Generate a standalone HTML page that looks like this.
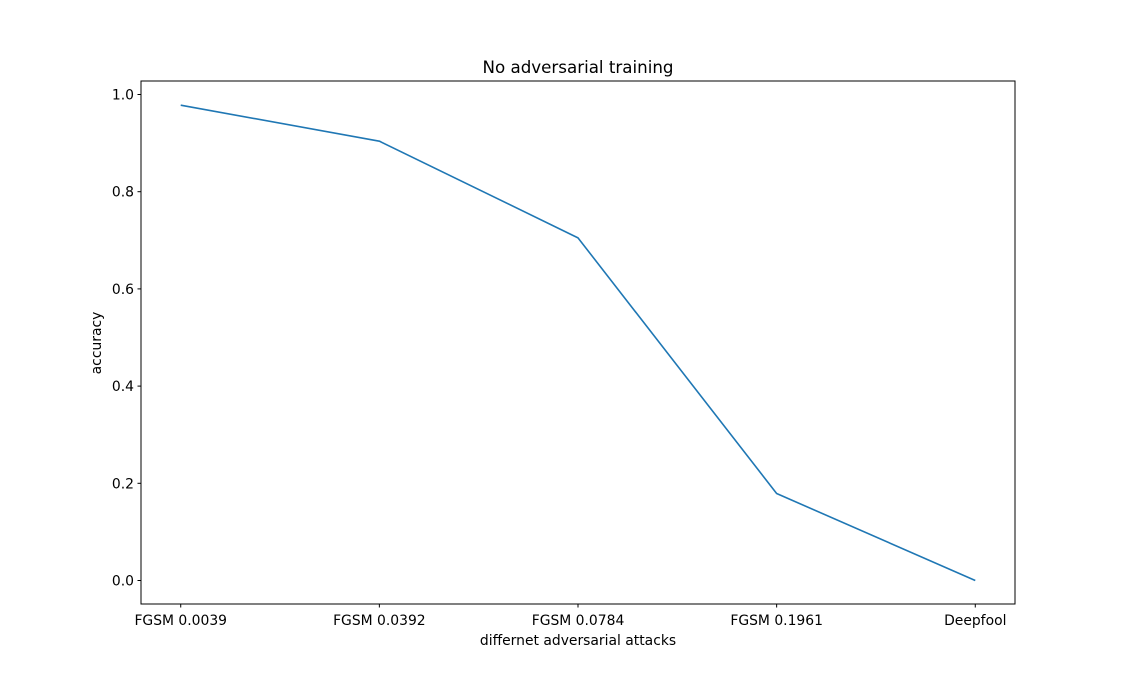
<!DOCTYPE html>
<html><head><meta charset="utf-8"><style>
html,body{margin:0;padding:0;background:#fff;}
svg{display:block;font-family:"DejaVu Sans","Liberation Sans",sans-serif;}
</style></head><body>
<svg id="chart" width="1128" height="679" viewBox="0 0 1128 679">
<rect x="0" y="0" width="1128" height="679" fill="#fff"/>
<text x="578" y="73" font-size="16.7" text-anchor="middle">No adversarial training</text>
<g id="yticks"></g>
<g id="xticks"></g>
<path id="line" fill="none" stroke="#1f77b4" stroke-width="1.6" stroke-linejoin="round"/>
<rect x="141" y="81" width="874" height="523" fill="none" stroke="#000" stroke-width="1"/>
<text x="578" y="645" font-size="13.9" text-anchor="middle">differnet adversarial attacks</text>
<text x="0" y="0" font-size="13.9" text-anchor="middle" transform="translate(101,343) rotate(-90)">accuracy</text>
</svg>
<script>
const categories = ["FGSM 0.0039","FGSM 0.0392","FGSM 0.0784","FGSM 0.1961","Deepfool"];
const accuracy = [0.978, 0.904, 0.705, 0.179, 0.0];
const yTicks = [0.0, 0.2, 0.4, 0.6, 0.8, 1.0];
const yTickLabels = ["0.0","0.2","0.4","0.6","0.8","1.0"];

const L=141,R=1015,T=81,B=604;
function xScale(i){return L+(i+0.2)/4.4*(R-L);}
function yScale(v){return 580.5-v*486;}
const NS="http://www.w3.org/2000/svg";
const yg=document.getElementById('yticks'), xg=document.getElementById('xticks');
yTicks.forEach((v,i)=>{
  const y=yScale(v);
  const l=document.createElementNS(NS,'line');
  l.setAttribute('x1',L-3.5);l.setAttribute('x2',L);l.setAttribute('y1',y);l.setAttribute('y2',y);l.setAttribute('stroke','#000');
  
  
  yg.appendChild(l);
  const t=document.createElementNS(NS,'text');
  t.setAttribute('x',L-7);t.setAttribute('y',y+5);t.setAttribute('font-size','13.9');t.setAttribute('text-anchor','end');
  t.textContent=yTickLabels[i];
  
  
  yg.appendChild(t);
});
categories.forEach((c,i)=>{
  const x=xScale(i);
  const l=document.createElementNS(NS,'line');
  l.setAttribute('x1',x);l.setAttribute('x2',x);l.setAttribute('y1',B);l.setAttribute('y2',B+3.5);l.setAttribute('stroke','#000');
  
  
  xg.appendChild(l);
  const t=document.createElementNS(NS,'text');
  t.setAttribute('x',x);t.setAttribute('y',B+21);t.setAttribute('font-size','13.9');t.setAttribute('text-anchor','middle');
  t.textContent=c;
  
  
  xg.appendChild(t);
});
document.getElementById('line').setAttribute('d',accuracy.map((v,i)=>(i?'L':'M')+xScale(i)+','+yScale(v)).join(' '));
</script>
</body></html>
